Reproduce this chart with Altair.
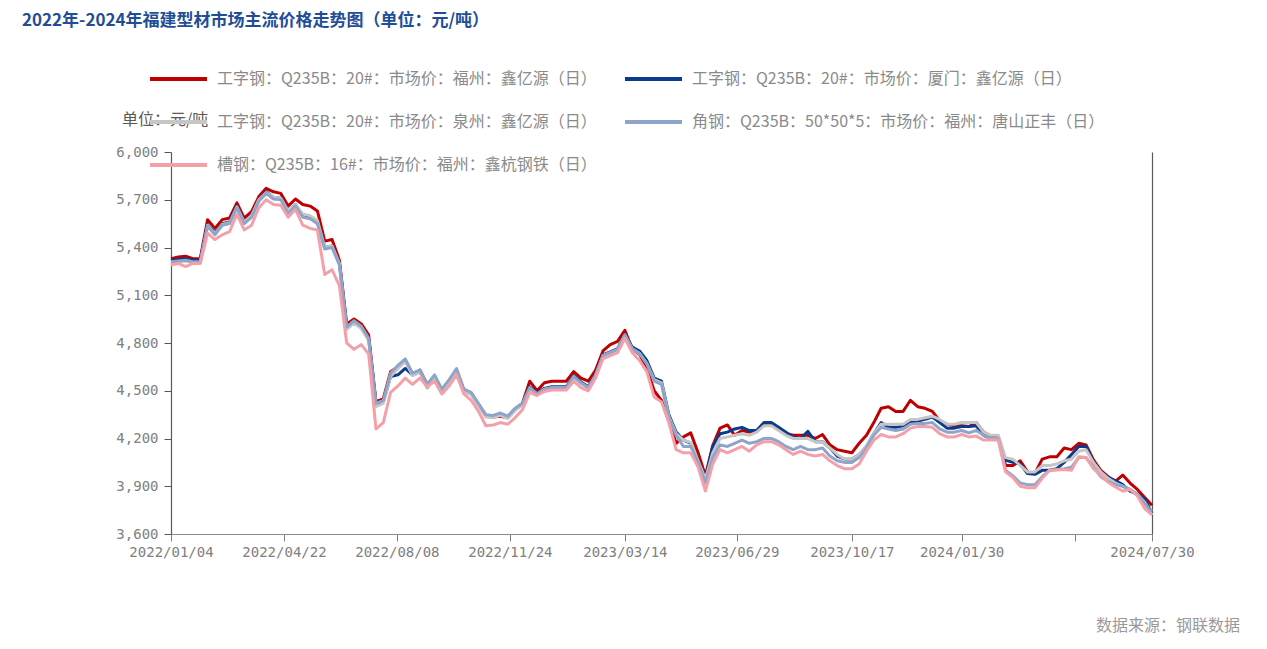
import altair as alt
import pandas as pd

# ---------------- data (weekly readings from the reference) ----------------
start_date = "2022-01-04"
n_weeks = 135

series_names = [
    "工字钢：Q235B：20#：市场价：福州：鑫亿源（日）",
    "工字钢：Q235B：20#：市场价：厦门：鑫亿源（日）",
    "工字钢：Q235B：20#：市场价：泉州：鑫亿源（日）",
    "角钢：Q235B：50*50*5：市场价：福州：唐山正丰（日）",
    "槽钢：Q235B：16#：市场价：福州：鑫杭钢铁（日）",
]
series_colors = ["#c00000", "#0b3b8c", "#c6c6c6", "#8ea4c8", "#f4a0a9"]

fuzhou_i = [
    5330, 5340, 5345, 5330, 5330, 5575, 5520, 5575, 5585, 5680,
    5585, 5625, 5720, 5772, 5750, 5740, 5660, 5705, 5670, 5660,
    5630, 5440, 5450, 5320, 4920, 4950, 4920, 4850, 4430, 4450,
    4620, 4650, 4690, 4600, 4630, 4540, 4590, 4500, 4560, 4630,
    4500, 4480, 4410, 4340, 4335, 4340, 4330, 4380, 4420, 4560,
    4500, 4550, 4560, 4560, 4560, 4620, 4580, 4560, 4630, 4750,
    4790, 4810, 4880, 4760, 4730, 4640, 4500, 4440, 4310, 4170,
    4210, 4235, 4110, 3965, 4155, 4265, 4285, 4220, 4250, 4240,
    4250, 4290, 4290, 4260, 4230, 4220, 4220, 4220, 4200, 4225,
    4160, 4130, 4120, 4110, 4170, 4220, 4300, 4390, 4400, 4370,
    4370, 4440, 4400, 4390, 4370, 4310, 4290, 4280, 4280, 4275,
    4300, 4240, 4215, 4215, 4030, 4030, 4060, 3990, 3980, 4070,
    4085, 4085, 4140, 4130, 4170, 4160, 4065, 4000, 3960, 3930,
    3970, 3920, 3880, 3830, 3780,
]
xiamen_i = [
    5320, 5325, 5330, 5320, 5320, 5545, 5490, 5550, 5560, 5660,
    5560, 5600, 5700, 5750, 5715, 5710, 5625, 5670, 5600, 5590,
    5560, 5400, 5410, 5300, 4900, 4935, 4900, 4825, 4420, 4430,
    4590, 4600, 4640, 4600, 4620, 4520, 4590, 4500, 4560, 4630,
    4505, 4485, 4415, 4345, 4340, 4355, 4335, 4385, 4420, 4525,
    4485, 4515, 4525, 4525, 4525, 4595, 4555, 4525, 4605, 4725,
    4745, 4765, 4855, 4775, 4750, 4690, 4580, 4560, 4350, 4240,
    4190, 4170, 4060, 3950, 4150, 4230, 4240, 4260, 4270, 4250,
    4250, 4300, 4300, 4270, 4240, 4210, 4200, 4245, 4180, 4180,
    4140, 4090, 4070, 4070, 4100, 4150, 4230, 4300, 4270, 4270,
    4280, 4300, 4310, 4320, 4335, 4300, 4265, 4265, 4275, 4275,
    4280, 4220, 4200, 4200, 4065, 4050, 4040, 3980, 3975, 4000,
    4000, 4010, 4050, 4100, 4150, 4150, 4050, 3990, 3955, 3935,
    3910, 3870, 3850, 3820, 3730,
]
quanzhou_i = [
    5305, 5310, 5315, 5305, 5305, 5540, 5485, 5545, 5555, 5655,
    5560, 5600, 5700, 5745, 5715, 5710, 5630, 5670, 5610, 5600,
    5570, 5400, 5410, 5300, 4885, 4925, 4890, 4815, 4400, 4420,
    4590, 4640, 4685, 4595, 4615, 4520, 4580, 4490, 4550, 4625,
    4495, 4475, 4405, 4335, 4330, 4345, 4325, 4375, 4410, 4515,
    4480, 4510, 4515, 4515, 4515, 4585, 4545, 4515, 4595, 4720,
    4740, 4760, 4850, 4760, 4735, 4670, 4570, 4550, 4340, 4230,
    4190, 4175, 4060, 3945, 4110, 4200, 4210, 4220, 4230, 4220,
    4240, 4280, 4280, 4250, 4220, 4200, 4200, 4200, 4180, 4180,
    4140, 4100, 4070, 4070, 4100, 4150, 4230, 4290, 4290, 4290,
    4290, 4320, 4320, 4330, 4340, 4320, 4290, 4290, 4300, 4300,
    4300, 4240, 4220, 4220, 4080, 4070, 4030, 3990, 3990, 4030,
    4030, 4040, 4060, 4070, 4120, 4130, 4050, 3990, 3950, 3920,
    3900, 3880, 3850, 3800, 3720,
]
fuzhou_angle = [
    5310, 5315, 5320, 5310, 5310, 5535, 5480, 5540, 5550, 5650,
    5550, 5590, 5690, 5740, 5705, 5700, 5615, 5660, 5590, 5580,
    5550, 5390, 5400, 5290, 4900, 4940, 4905, 4830, 4420, 4440,
    4610, 4660, 4700, 4610, 4630, 4540, 4600, 4510, 4570, 4640,
    4510, 4490, 4420, 4350, 4345, 4360, 4340, 4390, 4420, 4520,
    4480, 4510, 4520, 4520, 4520, 4590, 4550, 4520, 4600, 4720,
    4740, 4760, 4850, 4765, 4735, 4670, 4560, 4540, 4330, 4220,
    4150, 4150, 4050, 3920, 4080, 4160, 4150, 4170, 4190, 4170,
    4180, 4200, 4200, 4180, 4150, 4130, 4150, 4130, 4130, 4140,
    4090, 4060, 4050, 4050, 4080, 4140, 4220, 4270, 4260, 4250,
    4260, 4290, 4295, 4295, 4300, 4260, 4240, 4240, 4250, 4235,
    4250, 4220, 4200, 4200, 4000, 3965, 3920, 3910, 3910, 3960,
    4000, 4005, 4010, 4020, 4080, 4080, 4020, 3960, 3930, 3910,
    3900, 3880, 3850, 3790, 3740,
]
fuzhou_channel = [
    5290, 5300, 5280, 5300, 5300, 5490, 5450, 5480, 5500, 5610,
    5510, 5540, 5650, 5700, 5670, 5665, 5590, 5640, 5540, 5520,
    5510, 5230, 5260, 5160, 4800, 4760, 4790, 4730, 4260, 4300,
    4490, 4530, 4580, 4540, 4580, 4525, 4560, 4480, 4530, 4600,
    4480, 4440, 4370, 4280, 4285, 4300, 4290, 4330, 4380, 4490,
    4470, 4495, 4505, 4505, 4505, 4560, 4520, 4500, 4580, 4700,
    4720, 4740, 4830, 4740, 4690, 4620, 4460, 4430, 4300, 4130,
    4110, 4110, 4020, 3870, 4040, 4130, 4110, 4130, 4150, 4120,
    4160, 4180, 4180, 4160, 4130, 4100, 4120, 4100, 4090, 4100,
    4060, 4030, 4010, 4010, 4040, 4120, 4190, 4225, 4210, 4210,
    4230, 4265, 4275, 4275, 4270, 4230, 4210, 4210, 4225, 4210,
    4215, 4190, 4190, 4190, 3990, 3955, 3900, 3890, 3890, 3950,
    4000, 4002, 4005, 4000, 4086, 4080, 4010, 3970, 3925, 3895,
    3870, 3880, 3840, 3760, 3720,
]

y_ticks = [3600, 3900, 4200, 4500, 4800, 5100, 5400, 5700, 6000]
x_tick_dates = [
    (2022, 1, 4), (2022, 4, 22), (2022, 8, 8), (2022, 11, 24), (2023, 3, 14),
    (2023, 6, 29), (2023, 10, 17), (2024, 1, 30), (2024, 5, 17), (2024, 7, 30),
]
hidden_label = "2024/05/17"

title_text = "2022年-2024年福建型材市场主流价格走势图（单位：元/吨）"
unit_text = "单位：元/吨"
source_text = "数据来源：钢联数据"

# ---------------- build table ----------------
dates = pd.date_range(start_date, periods=n_weeks, freq="7D")
all_values = [fuzhou_i, xiamen_i, quanzhou_i, fuzhou_angle, fuzhou_channel]
rows = []
for name, vals in zip(series_names, all_values):
    assert len(vals) == n_weeks, (name, len(vals))
    for d, v in zip(dates, vals):
        rows.append({"date": d.strftime("%Y-%m-%d"), "series": name, "value": v})
df = pd.DataFrame(rows)

tick_values = [alt.DateTime(year=y, month=m, date=d, utc=True) for (y, m, d) in x_tick_dates]
fmt = "utcFormat(datum.value, '%Y/%m/%d')"

x_scale = alt.Scale(
    type="utc",
    domain=[alt.DateTime(year=2022, month=1, date=4, utc=True),
            alt.DateTime(year=2024, month=7, date=30, utc=True)],
    nice=False,
)
x_enc = alt.X(
    "date:T",
    scale=x_scale,
    axis=alt.Axis(
        values=tick_values,
        labelExpr=f"{fmt} == '{hidden_label}' ? '' : {fmt}",
        title=None, grid=False, labelFlush=False, labelOverlap=False,
        labelFont="DejaVu Sans Mono", labelFontSize=14, labelColor="#808080",
        tickSize=7, tickColor="#7f7f7f", domainColor="#8c8c8c", domainWidth=1.2,
        labelPadding=4,
    ),
)

y_scale = alt.Scale(domain=[3600, 6000], nice=False, zero=False)

color_enc = alt.Color(
    "series:N",
    scale=alt.Scale(domain=series_names, range=series_colors),
    legend=alt.Legend(
        title=None, orient="none", legendX=-23, legendY=-81, columns=2,
        direction="horizontal",
        symbolType="stroke", symbolSize=3249, symbolStrokeWidth=4, clipHeight=16,
        rowPadding=27, columnPadding=26, labelOffset=8, labelLimit=700,
        labelFont="Noto Sans CJK SC", labelFontSize=16, labelColor="#8a8a8a",
    ),
)

lines = alt.Chart(df).mark_line(strokeWidth=3, strokeJoin="round").encode(
    x=x_enc,
    y=alt.Y(
        "value:Q", scale=y_scale,
        axis=alt.Axis(
            values=y_ticks, format=",.0f", title=None, grid=False,
            labelFont="DejaVu Sans Mono", labelFontSize=14, labelColor="#808080",
            tickSize=7, tickColor="#595959", domainColor="#595959", domainWidth=1.2,
            labelPadding=6,
        ),
    ),
    color=color_enc,
)

right_axis = alt.Chart(df).mark_line(opacity=0).encode(
    x=x_enc,
    y=alt.Y("value:Q", scale=y_scale,
            axis=alt.Axis(orient="right", labels=False, ticks=False, title=None, grid=False,
                          domainColor="#595959", domainWidth=1.2)),
    detail="series:N",
)

title_mark = alt.Chart(pd.DataFrame({"t": [title_text]})).mark_text(
    align="left", baseline="middle", font="Noto Sans CJK SC", fontSize=17,
    fontWeight="bold", color="#1f4e96",
).encode(text="t:N", x=alt.value(-149), y=alt.value(-131))

unit_mark = alt.Chart(pd.DataFrame({"t": [unit_text]})).mark_text(
    align="left", baseline="middle", font="Noto Sans CJK SC", fontSize=16, color="#595959",
).encode(text="t:N", x=alt.value(-49), y=alt.value(-32))

source_mark = alt.Chart(pd.DataFrame({"t": [source_text]})).mark_text(
    align="right", baseline="middle", font="Noto Sans CJK SC", fontSize=16, color="#9a9a9a",
).encode(text="t:N", x=alt.value(1069), y=alt.value(474))

chart = alt.layer(lines, right_axis, title_mark, unit_mark, source_mark).resolve_axis(
    y="independent"
).properties(
    width=981, height=382,
    padding={"left": 163, "top": 144, "right": 100, "bottom": 104},
    autosize=alt.AutoSizeParams(type="none"),
).configure(background="white").configure_view(strokeWidth=0, stroke=None)

chart.save("out.html", embed_options={"renderer": "svg", "actions": False})
